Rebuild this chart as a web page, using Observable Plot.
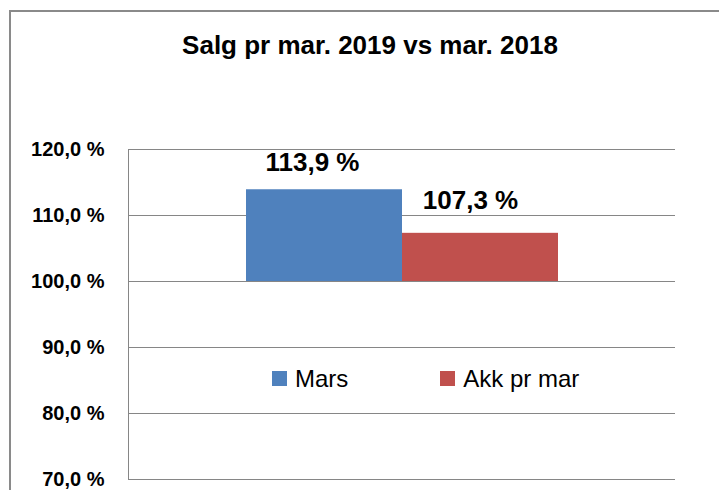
<!DOCTYPE html>
<html>
<head>
<meta charset="utf-8">
<script src="https://cdn.jsdelivr.net/npm/d3@7"></script>
<script src="https://cdn.jsdelivr.net/npm/@observablehq/plot@0.6"></script>
<style>
  html, body { margin: 0; padding: 0; background: #fff; }
  #chart { position: relative; width: 719px; height: 490px; overflow: hidden; font-family: "Liberation Sans", Arial, sans-serif; }
  #frame { position: absolute; left: 9px; top: 10px; width: 800px; height: 600px; border-left: 2px solid #8a8a8a; border-top: 2px solid #8a8a8a; }
  #title { position: absolute; left: 0; top: 30px; width: 740px; text-align: center; font-weight: bold; font-size: 26px; color: #000; }
  #chart svg { position: absolute; left: 0; top: 0; }
  #legend { position: absolute; left: 272px; top: 362px; }
  .lg-swatches { font-family: "Liberation Sans", Arial, sans-serif !important; font-size: 24px !important; color: #000 !important; }
  .lg-swatch { margin-right: 92px !important; }
  .lg-swatch svg { position: static !important; margin-right: 8px !important; }
</style>
</head>
<body>
<div id="chart">
  <div id="frame"></div>
  <div id="title">Salg pr mar. 2019 vs mar. 2018</div>
</div>
<script>
const series = ["Mars", "Akk pr mar"];
const values = [113.9, 107.3];
const colors = ["#4F81BD", "#C0504D"];
const yTicks = [70, 80, 90, 100, 110, 120];
const baseline = 100;

const data = series.map((s, i) => ({series: s, value: values[i]}));
const fmt = d => d.toFixed(1).replace(".", ",") + " %";

const plot = Plot.plot({
  width: 719,
  height: 490,
  marginTop: 149,
  marginBottom: 11,
  marginLeft: 128,
  marginRight: 44,
  style: {fontFamily: "Liberation Sans, Arial, sans-serif", background: "transparent", overflow: "visible"},
  x: {domain: series, paddingInner: 0, paddingOuter: 0.7475, axis: null},
  y: {domain: [70, 120], label: null},
  color: {domain: series, range: colors},
  marks: [
    Plot.gridY(yTicks, {stroke: "#868686", strokeOpacity: 1, strokeWidth: 1}),
    Plot.frame({anchor: "left", stroke: "#868686", strokeWidth: 1}),
    Plot.axisY(yTicks, {tickSize: 0, tickPadding: 24, tickFormat: fmt, fontSize: 20, fontWeight: "bold", fill: "#000", label: null}),
    Plot.barY(data, {x: "series", y1: baseline, y2: "value", fill: "series"}),
    Plot.text(data.filter(d => d.series === series[0]), {x: "series", y: "value", text: d => fmt(d.value), dx: -12, dy: -27, fontSize: 26, fontWeight: "bold", fill: "#000"}),
    Plot.text(data.filter(d => d.series === series[1]), {x: "series", y: "value", text: d => fmt(d.value), dx: -10, dy: -33, fontSize: 26, fontWeight: "bold", fill: "#000"})
  ]
});
document.getElementById("chart").appendChild(plot);

const leg = Plot.legend({
  color: {type: "ordinal", domain: series, range: colors},
  legend: "swatches",
  swatchSize: 15,
  className: "lg"
});
const lwrap = document.createElement("div");
lwrap.id = "legend";
lwrap.appendChild(leg);
document.getElementById("chart").appendChild(lwrap);
</script>
</body>
</html>
